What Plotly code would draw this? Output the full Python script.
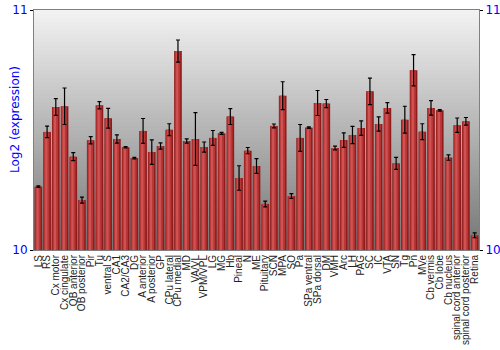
import plotly.graph_objects as go

regions = ["LS", "RS", "Cx motor", "Cx cingulate", "OB anterior", "OB posterior", "Pir", "Tu",
           "ventral S", "CA1", "CA2/CA3", "DG", "A anterior", "A posterior", "GP", "CPu lateral",
           "CPu medial", "MD", "VA/VL", "VPM/VPL", "LG", "MG", "Hb", "Pineal", "N", "ME",
           "Pituitary", "SCN", "MPA", "SO", "Pa", "SPa ventral", "SPa dorsal", "DM", "VMH", "Arc",
           "LH", "PAG", "SC", "IC", "VTA", "SN", "Tg", "Pn", "MVe", "Cb vermis", "Cb lobe",
           "Cb nucleus", "spinal cord anterior", "spinal cord posterior", "Retina"]

expression = [10.264, 10.492, 10.596, 10.599, 10.389, 10.208, 10.457, 10.603,
              10.549, 10.4625, 10.428, 10.383, 10.496, 10.408, 10.433, 10.501,
              10.829, 10.454, 10.4625, 10.429, 10.467, 10.486, 10.556, 10.300, 10.414, 10.350,
              10.192, 10.517, 10.643, 10.225, 10.467, 10.510, 10.6125, 10.610, 10.425, 10.458,
              10.479, 10.508, 10.661, 10.525, 10.592, 10.361, 10.543, 10.749, 10.493, 10.592, 10.582,
              10.385, 10.520, 10.536, 10.061]

errors = [0.003, 0.024, 0.035, 0.076, 0.017, 0.0125, 0.015, 0.015,
          0.041, 0.017, 0.003, 0.003, 0.052, 0.051, 0.013, 0.025,
          0.046, 0.009, 0.11, 0.021, 0.031, 0.004, 0.033, 0.051, 0.013, 0.031,
          0.012, 0.008, 0.058, 0.010, 0.056, 0.003, 0.052, 0.017, 0.008, 0.030,
          0.036, 0.030, 0.055, 0.030, 0.022, 0.025, 0.056, 0.065, 0.033, 0.030, 0.003,
          0.011, 0.030, 0.016, 0.010]

y_range = [10, 11]
y_ticks = [10, 11]

fig = go.Figure()

# gradient plot background (stripes)
n = 60
for i in range(n):
    t = i / (n - 1)
    g = int(round(242 - (242 - 118) * t))
    fig.add_shape(type="rect", xref="x domain", yref="y domain",
                  x0=0, x1=1, y0=1 - (i + 1) / n, y1=1 - i / n,
                  fillcolor=f"rgb({g},{g},{g})", line=dict(width=0), layer="below")

base = [y_range[0]] * len(expression)
heights = [v - y_range[0] for v in expression]

fig.add_trace(go.Bar(x=regions, y=heights, base=base, width=0.88,
                     marker=dict(color="#8e1c1c", line=dict(width=0)),
                     hoverinfo="skip", showlegend=False))
fig.add_trace(go.Bar(x=regions, y=heights, base=base, width=0.62, offset=-0.36,
                     marker=dict(color="#b83636", line=dict(width=0)),
                     hoverinfo="skip", showlegend=False))
fig.add_trace(go.Bar(x=regions, y=heights, base=base, width=0.26, offset=-0.22,
                     marker=dict(color="#d05252", line=dict(width=0)),
                     hoverinfo="skip", showlegend=False))
fig.add_trace(go.Bar(x=regions, y=heights, base=base, width=0.88,
                     marker=dict(color="rgba(0,0,0,0)", line=dict(width=0)),
                     error_y=dict(type="data", array=errors, color="#000000",
                                  thickness=1.2, width=2),
                     hoverinfo="skip", showlegend=False))
fig.add_trace(go.Scatter(x=[regions[0]], y=[y_range[0]], yaxis="y2", mode="markers",
                         marker=dict(opacity=0), hoverinfo="skip", showlegend=False))

fig.add_annotation(text="Log2 (expression)", textangle=-90, showarrow=False,
                   xref="paper", yref="paper", x=-0.0427, y=0.546,
                   xanchor="center", yanchor="middle",
                   font=dict(family="DejaVu Sans", size=12, color="#0000ff"))

fig.update_layout(
    width=500, height=350,
    margin=dict(l=34, r=21, t=10, b=100),
    paper_bgcolor="white", plot_bgcolor="rgba(0,0,0,0)",
    barmode="overlay",
    bargap=0.12,
    font=dict(family="DejaVu Sans", size=12, color="#0000ff"),
    xaxis=dict(showline=True, linecolor="#808080", linewidth=1, mirror=True,
               showgrid=False, ticks="", tickangle=-90, automargin=False,
               range=[-0.5, len(regions) - 0.5],
               tickmode="array", tickvals=regions, ticktext=regions,
               tickfont=dict(family="Liberation Sans", size=10, color="#222222"),
               categoryorder="array", categoryarray=regions),
    yaxis=dict(range=y_range, tickvals=y_ticks, showgrid=False, zeroline=False,
               showline=True, linecolor="#808080", linewidth=1, automargin=False,
               ticks="outside", ticklen=3, tickcolor="#000000",
               tickfont=dict(family="DejaVu Sans", size=12, color="#0000ff")),
    yaxis2=dict(range=y_range, tickvals=y_ticks, overlaying="y", side="right",
                showgrid=False, zeroline=False, showline=True, linecolor="#808080",
                ticks="outside", ticklen=3, tickcolor="#000000", automargin=False,
                tickfont=dict(family="DejaVu Sans", size=12, color="#0000ff")),
)

fig.write_html("out.html")
